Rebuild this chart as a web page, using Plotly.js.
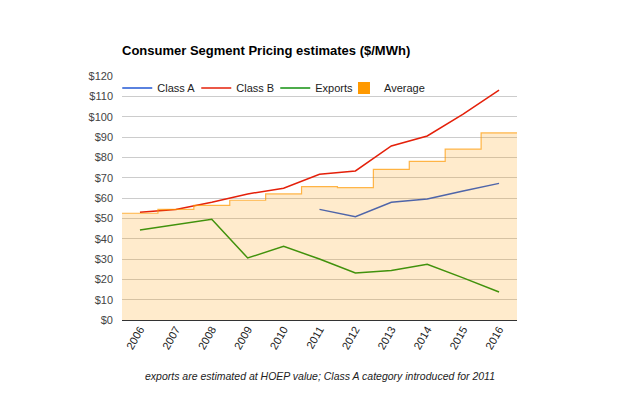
<!DOCTYPE html>
<html>
<head>
<meta charset="utf-8">
<script src="https://cdn.plot.ly/plotly-3.0.1.min.js"></script>
<style>html,body{margin:0;padding:0;background:#fff;}#chart{width:640px;height:396px;}</style>
</head>
<body>
<div id="chart"></div>
<script>
const years = [2006, 2007, 2008, 2009, 2010, 2011, 2012, 2013, 2014, 2015, 2016];
const yearLabels = ["2006","2007","2008","2009","2010","2011","2012","2013","2014","2015","2016"];
const classA = [null, null, null, null, null, 54.4, 50.8, 57.9, 59.5, 63.4, 67.2];
const classB = [53.0, 54.4, 57.9, 62.0, 64.8, 71.7, 73.3, 85.6, 90.5, 101.3, 113.0];
const exportsP = [44.3, 47.0, 49.5, 30.5, 36.2, 30.0, 23.1, 24.3, 27.4, 20.7, 13.8];
const average = [52.5, 54.4, 56.4, 58.9, 62.0, 65.6, 65.1, 74.1, 78.0, 84.0, 92.0];
const yTicks = [0, 10, 20, 30, 40, 50, 60, 70, 80, 90, 100, 110, 120];
const yTickLabels = ["$0","$10","$20","$30","$40","$50","$60","$70","$80","$90","$100","$110","$120"];

// stepped area: each value spans its whole category band
const avgX = years.map(y => y - 0.5).concat([years[years.length - 1] + 0.5]);
const avgY = average.concat([average[average.length - 1]]);

const font = "Liberation Sans, Arial, sans-serif";
const traces = [
  {x: years, y: classA, name: "Class A", type: "scatter", mode: "lines",
   line: {color: "#2358d4", width: 1.5}},
  {x: years, y: classB, name: "Class B", type: "scatter", mode: "lines",
   line: {color: "#e4200a", width: 1.5}},
  {x: years, y: exportsP, name: "Exports", type: "scatter", mode: "lines",
   line: {color: "#12900f", width: 1.5}},
  {x: avgX, y: avgY, name: "Average", type: "scatter", mode: "lines", showlegend: false,
   line: {color: "rgba(255,153,0,0.7)", width: 1.2, shape: "hv"},
   fill: "tozeroy", fillcolor: "rgba(255,153,0,0.2)"},
  // legend swatch for the Average series (solid square like the original)
  {x: [null], y: [null], name: "Average", type: "bar", legend: "legend2",
   marker: {color: "#ff9900", line: {width: 0}}}
];

const legendFont = {family: font, size: 11, color: "#222"};
const layout = {
  width: 640, height: 396,
  margin: {l: 122, r: 123, t: 76, b: 76},
  paper_bgcolor: "#fff", plot_bgcolor: "#fff",
  font: {family: font, size: 11, color: "#444"},
  title: {text: "<b>Consumer Segment Pricing estimates ($/MWh)</b>",
          font: {family: font, size: 13, color: "#000"},
          x: 122/640, xref: "container", xanchor: "left",
          y: 1 - 50/396, yref: "container", yanchor: "middle"},
  showlegend: true,
  legend: {orientation: "h", x: -0.012, xanchor: "left", y: 0.951, yanchor: "middle",
           bgcolor: "rgba(0,0,0,0)", font: legendFont,
           entrywidth: 34, entrywidthmode: "pixels", itemwidth: 30, traceorder: "normal"},
  legend2: {orientation: "h", x: 0.562, xanchor: "left", y: 0.951, yanchor: "middle",
            bgcolor: "rgba(0,0,0,0)", font: legendFont, itemwidth: 30},
  xaxis: {range: [2005.5, 2016.5], tickvals: years, ticktext: yearLabels,
          tickangle: -60, showgrid: false, zeroline: false, showline: false,
          ticks: "", tickfont: {family: font, size: 11, color: "#222"}, fixedrange: true},
  yaxis: {range: [0, 120], tickvals: yTicks, ticktext: yTickLabels, showgrid: true,
          gridcolor: "#cccccc", gridwidth: 1, zeroline: true, zerolinecolor: "#333",
          zerolinewidth: 1, ticks: "", tickfont: {family: font, size: 11, color: "#444"},
          ticklabelstandoff: 8},
  annotations: [{text: "<i>exports are estimated at HOEP value; Class A category introduced for 2011</i>",
                 xref: "paper", yref: "paper", x: 0.5, y: (320 - 376) / 244, xanchor: "center",
                 yanchor: "middle", showarrow: false, font: {family: font, size: 10.5, color: "#222"}}]
};
Plotly.newPlot("chart", traces, layout, {displayModeBar: false, staticPlot: true});
</script>
</body>
</html>
